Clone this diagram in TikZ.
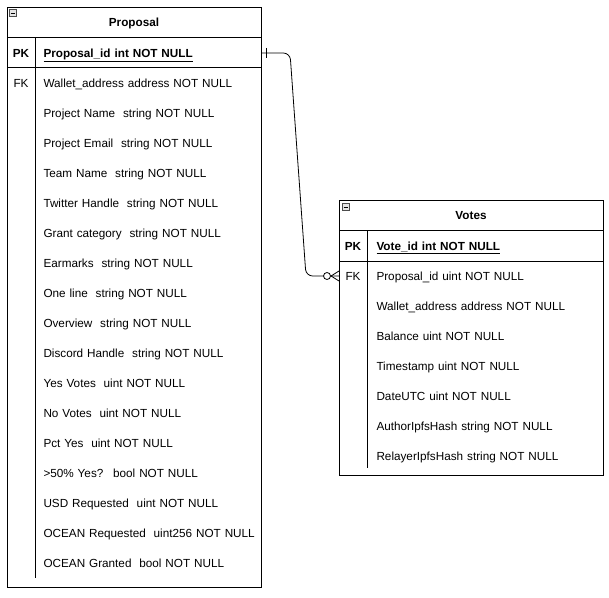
\documentclass[tikz,border=0pt]{standalone}
\usepackage{fontspec}
\setmainfont{Liberation Sans}
\usetikzlibrary{positioning}

\begin{document}
\begin{tikzpicture}[x=0.75pt,y=-0.75pt,node distance=22.5pt,on grid,line width=0.75pt,
  font=\fontsize{8.8}{11}\selectfont,
  field/.style={inner sep=0pt,text width=165pt,align=left,text height=8pt,text depth=1.5pt},
  key/.style={inner sep=0pt,text height=8pt,text depth=1.5pt},
  title/.style={font=\fontsize{8.8}{11}\selectfont\bfseries},
  collapse/.style={draw=gray!60!black,fill=gray!20,line width=0.4pt,minimum size=5.5pt,inner sep=0pt}]
   \useasboundingbox (0,0) rectangle (609,598);

   % Proposal table
   \draw (7,8) rectangle (261,587);
   \draw (7,38) -- (261,38) (7,68) -- (261,68) (35,38) -- (35,578);
   \node[collapse] (pbox) at (13,13) {};
   \draw[line width=0.5pt] ([xshift=1.2pt]pbox.west) -- ([xshift=-1.2pt]pbox.east);
   \node[title] (ptitle) at (134,23) {Proposal};
   \node[key,font=\fontsize{8.8}{11}\selectfont\bfseries] (pk1) at (21,53) {PK};
   \node[key] (fk1) at (21,83) {FK};
   \node[field,anchor=west,font=\fontsize{8.8}{11}\selectfont\bfseries] (pid) at (43,53) {\underline{Proposal\_id int NOT NULL}};
   \node[field] (p1) [below=of pid] {Wallet\_address address NOT NULL};
   \node[field] (p2) [below=of p1] {Project Name~ string NOT NULL};
   \node[field] (p3) [below=of p2] {Project Email~ string NOT NULL};
   \node[field] (p4) [below=of p3] {Team Name~ string NOT NULL};
   \node[field] (p5) [below=of p4] {Twitter Handle~ string NOT NULL};
   \node[field] (p6) [below=of p5] {Grant category~ string NOT NULL};
   \node[field] (p7) [below=of p6] {Earmarks~ string NOT NULL};
   \node[field] (p8) [below=of p7] {One line~ string NOT NULL};
   \node[field] (p9) [below=of p8] {Overview~ string NOT NULL};
   \node[field] (p10) [below=of p9] {Discord Handle~ string NOT NULL};
   \node[field] (p11) [below=of p10] {Yes Votes~ uint NOT NULL};
   \node[field] (p12) [below=of p11] {No Votes~ uint NOT NULL};
   \node[field] (p13) [below=of p12] {Pct Yes~ uint NOT NULL};
   \node[field] (p14) [below=of p13] {>50\% Yes?~ bool NOT NULL};
   \node[field] (p15) [below=of p14] {USD Requested~ uint NOT NULL};
   \node[field] (p16) [below=of p15] {OCEAN Requested~ uint256 NOT NULL};
   \node[field] (p17) [below=of p16] {OCEAN Granted~ bool NOT NULL};

   % Votes table
   \draw (339,201) rectangle (603,475);
   \draw (339,231) -- (603,231) (339,261) -- (603,261) (367,231) -- (367,468);
   \node[collapse] (vbox) at (346,207) {};
   \draw[line width=0.5pt] ([xshift=1.2pt]vbox.west) -- ([xshift=-1.2pt]vbox.east);
   \node[title] (vtitle) at (471,216) {Votes};
   \node[key,font=\fontsize{8.8}{11}\selectfont\bfseries] (pk2) at (353,246) {PK};
   \node[key] (fk2) at (353,276) {FK};
   \node[field,anchor=west,font=\fontsize{8.8}{11}\selectfont\bfseries] (vid) at (376,246) {\underline{Vote\_id int NOT NULL}};
   \node[field] (v1) [below=of vid] {Proposal\_id uint NOT NULL};
   \node[field] (v2) [below=of v1] {Wallet\_address address NOT NULL};
   \node[field] (v3) [below=of v2] {Balance uint NOT NULL};
   \node[field] (v4) [below=of v3] {Timestamp uint NOT NULL};
   \node[field] (v5) [below=of v4] {DateUTC uint NOT NULL};
   \node[field] (v6) [below=of v5] {AuthorIpfsHash string NOT NULL};
   \node[field] (v7) [below=of v6] {RelayerIpfsHash string NOT NULL};

   % relation: one Proposal to zero-or-many Votes
   \coordinate (pport) at (261,53);
   \coordinate (vport) at (339,276);
   \draw[line width=0.6pt,rounded corners=5pt] (pport) -- (290,53) -- (306,276) -- (vport);
   \draw[line width=0.6pt] (266,48) -- (266,58);
   \draw[line width=0.6pt] (331,276) -- (339,271) (331,276) -- (339,281);
   \draw[line width=0.6pt,fill=white] (327,276) circle (3.5);
\end{tikzpicture}
\end{document}
